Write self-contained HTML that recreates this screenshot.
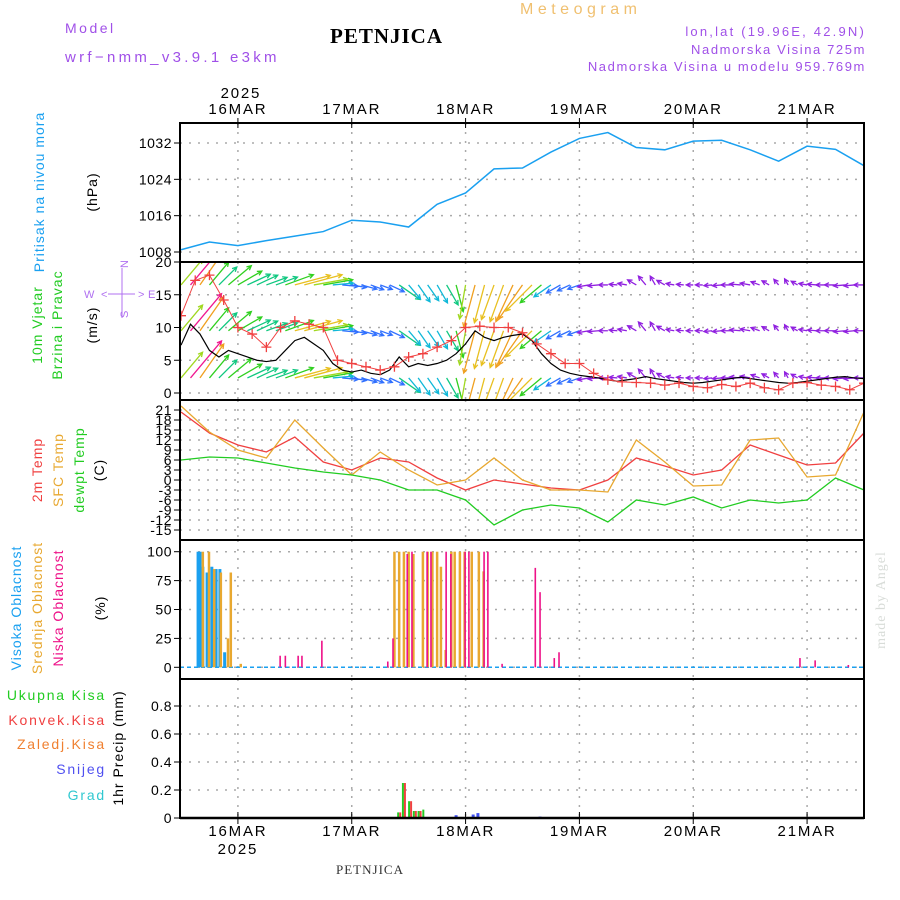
<!DOCTYPE html>
<html><head><meta charset="utf-8">
<style>
body{margin:0;background:#fff;}
svg{display:block;font-family:"Liberation Sans",sans-serif;}
.t{font-size:14px;}
</style></head>
<body>
<svg id="c" width="900" height="900" viewBox="0 0 900 900">
<text x="65" y="33" fill="#a050e8" style="font-size:14px;letter-spacing:2.5px">Model</text>
<text x="65" y="62" fill="#a050e8" style="font-size:15px;letter-spacing:3.3px">wrf−nmm_v3.9.1  e3km</text>
<text x="330" y="43" font-family="Liberation Serif,serif" font-weight="bold" font-size="21" letter-spacing="1">PETNJICA</text>
<text x="520" y="14" fill="#f0c070" style="font-size:16px;letter-spacing:4.5px">Meteogram</text>
<text x="866" y="36" fill="#a050e8" style="font-size:13px;letter-spacing:2.2px" text-anchor="end">lon,lat (19.96E, 42.9N)</text>
<text x="866" y="54" fill="#a050e8" style="font-size:13px;letter-spacing:1.6px" text-anchor="end">Nadmorska Visina 725m</text>
<text x="866" y="71" fill="#a050e8" style="font-size:13px;letter-spacing:1.6px" text-anchor="end">Nadmorska Visina u modelu 959.769m</text>
<text x="370" y="874" font-family="Liberation Serif,serif" font-size="13" text-anchor="middle" letter-spacing="1" fill="#333">PETNJICA</text>
<text transform="translate(885,600) rotate(-90)" text-anchor="middle" font-family="Liberation Serif,serif" font-size="14" fill="#d8dcd8" letter-spacing="1">made by Angel</text>

<g class="t" style="letter-spacing:1px">
<text transform="translate(44,192) rotate(-90)" text-anchor="middle" fill="#1aa0f0">Pritisak na nivou mora</text>
<text transform="translate(97,192) rotate(-90)" text-anchor="middle">(hPa)</text>
</g>
<g class="t" style="letter-spacing:1px">
<text transform="translate(42,325) rotate(-90)" text-anchor="middle" fill="#22cc22">10m Vjetar</text>
<text transform="translate(62,325) rotate(-90)" text-anchor="middle" fill="#22cc22">Brzina i Pravac</text>
<text transform="translate(97,325) rotate(-90)" text-anchor="middle">(m/s)</text>
<g fill="#b070f0" style="font-size:11px;letter-spacing:0">
<text x="84" y="298">W</text><text x="101" y="298">&lt;</text><text x="138" y="298">&gt;</text><text x="148" y="298">E</text>
<line x1="108" y1="294" x2="135" y2="294" stroke="#b070f0"/><line x1="122" y1="268" x2="122" y2="318" stroke="#b070f0"/>
<text transform="translate(128,268) rotate(-90)">N</text><text transform="translate(128,318) rotate(-90)">S</text>
</g>
</g>
<g class="t" style="letter-spacing:1px">
<text transform="translate(42,470) rotate(-90)" text-anchor="middle" fill="#f04040">2m Temp</text>
<text transform="translate(63,470) rotate(-90)" text-anchor="middle" fill="#e8a830">SFC Temp</text>
<text transform="translate(84,470) rotate(-90)" text-anchor="middle" fill="#22cc22">dewpt Temp</text>
<text transform="translate(104,470) rotate(-90)" text-anchor="middle">(C)</text>
</g>
<g class="t" style="letter-spacing:1px">
<text transform="translate(21,608) rotate(-90)" text-anchor="middle" fill="#1aa0f0">Visoka Oblacnost</text>
<text transform="translate(42,608) rotate(-90)" text-anchor="middle" fill="#e8a830">Srednja Oblacnost</text>
<text transform="translate(63,608) rotate(-90)" text-anchor="middle" fill="#ee1188">Niska Oblacnost</text>
<text transform="translate(105,608) rotate(-90)" text-anchor="middle">(%)</text>
</g>
<g class="t" text-anchor="end" style="letter-spacing:1.8px">
<text x="106" y="700" fill="#22cc22">Ukupna  Kisa</text>
<text x="106" y="725" fill="#f04040">Konvek.Kisa</text>
<text x="106" y="749" fill="#f08030">Zaledj.Kisa</text>
<text x="106" y="774" fill="#5050f0">Snijeg</text>
<text x="106" y="800" fill="#30c8d0">Grad</text>
<text transform="translate(123,748) rotate(-90)" text-anchor="middle" fill="#000" style="letter-spacing:1px">1hr Precip (mm)</text>
</g>
<defs><clipPath id="cw"><rect x="180" y="262" width="684" height="138"/></clipPath></defs>
</svg>
<script>
// ---- data ----
const dayLabels=["16MAR","17MAR","18MAR","19MAR","20MAR","21MAR"];
const dayHours=[12,36,60,84,108,132];
const presHours=[0,6,12,18,24,30,36,42,48,54,60,66,72,78,84,90,96,102,108,114,120,126,132,138,144];
const pressure=[1008.5,1010.2,1009.4,1010.5,1011.5,1012.5,1015,1014.6,1013.5,1018.5,1021,1026.3,1026.5,1030,1033,1034.3,1031,1030.5,1032.4,1032.6,1030.5,1028,1031.3,1030.6,1027];
const pressureTicks=[1008,1016,1024,1032];
const windSpeed=[7.3,10.5,9,6.5,5.5,6.5,6,5.5,5,4.8,5,6.5,8,8.5,7.5,6.5,4.5,3.5,3.2,3.5,3,2.8,3.5,5.5,4,4.5,4.2,4.5,5,6,7.5,9.5,8.5,8,8.5,8.8,9,8,6,4.5,3.5,3,2.7,2.5,2.3,2,1.8,2,2.2,2.5,2.2,2,1.8,1.6,1.5,1.6,1.8,2,2.2,2.4,2.2,2,1.8,1.6,1.5,1.6,1.8,2,2.2,2.4,2.5,2.3,2.2];
const windDir=[40,40,35,40,45,50,60,65,65,70,70,70,75,75,80,80,85,95,100,105,110,110,115,125,140,145,145,150,150,165,190,195,195,200,200,205,215,225,230,235,240,245,250,260,265,270,275,280,300,320,330,300,280,275,270,270,265,265,270,275,280,290,300,320,330,300,280,275,270,270,265,265,270];
const gust=[11.8,17.2,18,14.2,10,9,7,10,11,10.5,10,5,4.5,4,3.5,4,5.5,6,7,8,10,10.2,10,10,9.2,7.5,6,4.5,4.5,3,2,1.7,1.6,1.5,1.2,1.5,1.0,0.8,1.3,1.0,1.5,0.8,0.5,1.5,1.6,1.2,1.0,0.5,1.5];
const windTicks=[0,5,10,15,20];
const tempHours=presHours;
const temp2m=[20.4,14.1,10.5,8.4,12.9,5.4,3,6.6,5.4,0.6,-3,0,-1.2,-2.4,-3,0,6.6,4.2,1.5,3,10.5,7.5,4.5,5.1,14.1];
const tempSfc=[22.2,14.4,9,6.6,18,9.6,1.5,8.4,3,-1.5,0,6.6,0,-3,-3,-3.6,12,5.4,-1.8,-1.5,12,12.6,0.9,1.5,20.4];
const dewpt=[6,6.9,6.6,5.1,3.6,2.4,1.5,0,-3,-3,-6,-13.5,-9,-7.5,-8.4,-12.6,-6,-7.5,-5.1,-8.4,-6,-6.9,-6,0.6,-3];
const tempTicks=[21,18,15,12,9,6,3,0,-3,-6,-9,-12,-15];
const highHours=[3.6,4,4.6,5.5,6.5,7.4,8.2,9.2];
const highVals=[100,100,87,82,87,85,85,13];
const midHours=[4.6,5.9,7,8.4,9.9,10.5,12.6,45,46,47,48,49,51,52,53,54,54.8,55.8,57,57.7,58.8,59.8,61.3,62.8,63.8];
const midVals=[100,100,85,82,25,82,3,100,100,100,100,98,100,100,100,100,87,15,100,100,100,100,100,100,83];
const lowHours=[20.9,22,24.7,25.5,29.7,43.6,44.7,47.7,48.7,51.9,52.7,55.9,56.9,59.9,60.7,63.9,64.7,67.7,74.7,75.7,78.7,79.7,130.5,133.7,140.7];
const lowVals=[10,10,10,10,23,5,25,98,100,100,100,100,98,100,100,100,100,3,86,65,8,13,8,6,2];
const cloudTicks=[0,25,50,75,100];
const rainHours=[46,47,48.3,49.3,50.3,51.3];
const rainTotal=[0.04,0.25,0.12,0.05,0.05,0.06];
const rainConv=[0.04,0.25,0.12,0.05,0.05,0];
const snowHours=[58,61.6,62.6,75.7];
const snowVals=[0.02,0.025,0.035,0.01];
const precipTicks=[0,0.2,0.4,0.6,0.8];
const precipTickLabels=["0","0.2","0.4","0.6","0.8"];

// ---- scales ----
const X0=180,X1=864;
const xs=h=>181+h*4.743;
const P={p:[123,262],w:[262,400],t:[400,540],c:[540,679],r:[679,818]};
const yP=v=>252-(v-1008)*4.542;
const yW=v=>393-v*6.55;
const yT=v=>410+(21-v)*3.333;
const yC=v=>667.3-v*1.156;
const yR=v=>818-v*140;

const svg=document.getElementById('c');
const NS='http://www.w3.org/2000/svg';
function mk(tag,attrs,parent){const e=document.createElementNS(NS,tag);for(const k in attrs)e.setAttribute(k,attrs[k]);(parent||svg).appendChild(e);return e;}

const panels=[['p','pressure',pressureTicks,yP,v=>v],['w','wind',windTicks,yW,v=>v],['t','temperature',tempTicks,yT,v=>v],['c','cloud',cloudTicks,yC,v=>v],['r','precip',precipTicks,yR,(v,i)=>precipTickLabels[i]]];
panels.forEach(([k,name,ticks,ys,lab])=>{
  const [a,b]=P[k];
  const g=mk('g',{});
  
  
  dayHours.forEach(h=>{const l=mk('line',{x1:xs(h),x2:xs(h),y1:a,y2:b,stroke:'#aaa','stroke-width':1.5,'stroke-dasharray':'2,7'},g);
    });
  ticks.forEach((v,i)=>{const y=ys(v);
    const l=mk('line',{x1:X0,x2:X1,y1:y,y2:y,stroke:'#aaa','stroke-width':1.5,'stroke-dasharray':'2,7'},g);
    
    mk('line',{x1:X0-6,x2:X0,y1:y,y2:y,stroke:'#000'},g);
    const t=mk('text',{x:X0-8,y:y+5,'text-anchor':'end','font-size':14,'letter-spacing':0.5},g);
    t.textContent=lab(v,i);
    
  });
});

let d=presHours.map((h,i)=>(i?'L':'M')+xs(h)+','+yP(pressure[i])).join('');
let e=mk('path',{d:d,fill:'none',stroke:'#1aa0f0','stroke-width':1.5});


const wg=mk('g',{'clip-path':'url(#cw)'});

function wcol(s){if(s<2.6)return '#9020e0';if(s<3.6)return '#3070ff';if(s<4.6)return '#10b8d8';if(s<5.6)return '#10c880';if(s<6.6)return '#30d020';if(s<7.6)return '#a0d820';if(s<8.6)return '#e8c020';if(s<9.6)return '#f0a020';if(s<10.2)return '#f06040';return '#f01890';}
const rows=[16.5,9.5,2.3];
windSpeed.forEach((s,i)=>{
  const h=i*2,x=xs(h),r=windDir[i]*Math.PI/180,L=Math.max(s*4.6,7);
  const dx=Math.sin(r)*L,dy=-Math.cos(r)*L,c=wcol(s);
  rows.forEach(rv=>{const y=yW(rv);const x2=x+dx,y2=y+dy;
    const a1=r+Math.PI*0.85,a2=r-Math.PI*0.85;
    const ar=mk('path',{d:`M${x},${y}L${x2},${y2}M${x2+Math.sin(a1)*5},${y2-Math.cos(a1)*5}L${x2},${y2}L${x2+Math.sin(a2)*5},${y2-Math.cos(a2)*5}`,stroke:c,fill:'none','stroke-width':1.3},wg);
    
  });
});
d=windSpeed.map((s,i)=>(i?'L':'M')+xs(i*2)+','+yW(s)).join('');
e=mk('path',{d:d,fill:'none',stroke:'#000','stroke-width':1.2,'clip-path':'url(#cw)'});

d=gust.map((s,i)=>(i?'L':'M')+xs(i*3)+','+yW(s)).join('');
e=mk('path',{d:d,fill:'none',stroke:'#f04040','stroke-width':1,'clip-path':'url(#cw)'});

gust.forEach((s,i)=>{const x=xs(i*3),y=yW(s);
  const m=mk('path',{d:`M${x-5},${y}h10M${x},${y-5}v10`,stroke:'#f04040','stroke-width':1.3,'clip-path':'url(#cw)'});
  });

[[temp2m,'#f04040','temp-2m-line'],[tempSfc,'#e8a830','temp-sfc-line'],[dewpt,'#22cc22','dewpoint-line']].forEach(([arr,c,n])=>{
  const p=mk('path',{d:arr.map((v,i)=>(i?'L':'M')+xs(tempHours[i])+','+yT(v)).join(''),fill:'none',stroke:c,'stroke-width':1.3});
  });

mk('line',{x1:X0,x2:X1,y1:yC(0),y2:yC(0),stroke:'#1aa0f0','stroke-width':1.5,'stroke-dasharray':'4,3'});
[[highHours,highVals,'#1aa0f0',3,'high-cloud-bar'],[midHours,midVals,'#e8a830',2.5,'mid-cloud-bar'],[lowHours,lowVals,'#ee1188',1.6,'low-cloud-bar']].forEach(([hs,vs,c,w,n])=>{
  hs.forEach((h,i)=>{const b=mk('rect',{x:xs(h)-w/2,y:yC(vs[i]),width:w,height:yC(0)-yC(vs[i]),fill:c});
    });});

rainHours.forEach((h,i)=>{const x=xs(h);
  let b=mk('rect',{x:x-2,y:yR(rainTotal[i]),width:2,height:yR(0)-yR(rainTotal[i]),fill:'#22cc22'});
  
  if(rainConv[i]>0){b=mk('rect',{x:x,y:yR(rainConv[i]),width:2,height:yR(0)-yR(rainConv[i]),fill:'#f04040'});
  }});
snowHours.forEach((h,i)=>{const x=xs(h);
  let b=mk('rect',{x:x-1.5,y:yR(snowVals[i]),width:3,height:yR(0)-yR(snowVals[i]),fill:'#4050f0'});
  });

Object.values(P).forEach(([a,b])=>{mk('rect',{x:X0,y:a,width:X1-X0,height:b-a,fill:'none',stroke:'#000','stroke-width':2});});
mk('line',{x1:X0,x2:X1,y1:818,y2:818,stroke:'#000','stroke-width':2.5});

dayLabels.forEach((l,i)=>{const x=xs(dayHours[i]);
  let t=mk('text',{x:x,y:114,'text-anchor':'middle','font-size':15,'letter-spacing':1.8});t.textContent=l;
  
  mk('line',{x1:x,x2:x,y1:118,y2:128,stroke:'#000'});
  mk('line',{x1:x,x2:x,y1:812,y2:824,stroke:'#000'});
  t=mk('text',{x:x,y:836,'text-anchor':'middle','font-size':15,'letter-spacing':1.8});t.textContent=l;
  });
let t=mk('text',{x:xs(12)+3,y:98,'text-anchor':'middle','font-size':15,'letter-spacing':1.8});t.textContent='2025';

t=mk('text',{x:xs(12),y:854,'text-anchor':'middle','font-size':15,'letter-spacing':1.8});t.textContent='2025';

</script>
</body></html>
